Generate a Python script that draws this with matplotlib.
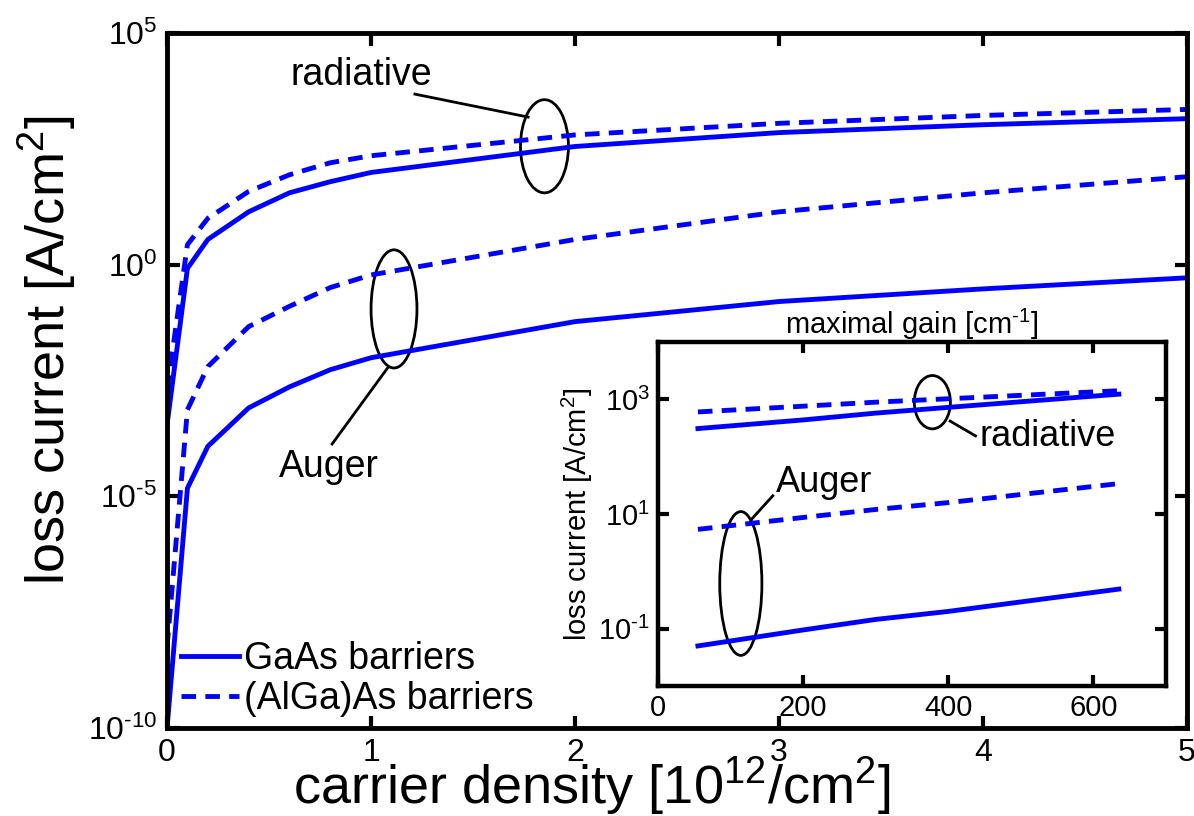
import numpy as np
import matplotlib
matplotlib.use("Agg")
import matplotlib.pyplot as plt
from matplotlib.patches import Ellipse
from matplotlib.ticker import FixedLocator, NullLocator

plt.rcParams['font.family'] = ['Liberation Sans', 'DejaVu Sans']
plt.rcParams['mathtext.fontset'] = 'custom'
plt.rcParams['mathtext.rm'] = 'Liberation Sans'
plt.rcParams['mathtext.it'] = 'Liberation Sans:italic'

# main plot: carrier density [1e12/cm^2] vs loss current [A/cm^2]
density = [0, 0.1, 0.2, 0.4, 0.6, 0.8, 1.0, 2.0, 3.0, 4.0, 5.0]
rad_gaas = [3.5e-4, 0.83, 3.5, 13.8, 35.5, 61.7, 97.7, 355, 708, 1047, 1413]
rad_algaas = [2.0e-3, 2.7, 10.0, 38.0, 87.0, 158, 224, 631, 1122, 1660, 2239]
aug_gaas = [1e-10, 1.5e-5, 1.2e-4, 8.1e-4, 2.3e-3, 5.4e-3, 9.8e-3, 5.9e-2, 0.16, 0.30, 0.52]
aug_algaas = [5.6e-9, 7.4e-4, 6.3e-3, 4.6e-2, 0.126, 0.32, 0.60, 3.5, 13.8, 35.5, 79.0]

# inset: maximal gain [1/cm] vs loss current
gain = [55, 200, 300, 400, 635]
rad_gaas_in = [309, 437, 575, 724, 1230]
rad_algaas_in = [603, 759, 891, 1023, 1413]
aug_gaas_in = [0.050, 0.095, 0.145, 0.20, 0.49]
aug_algaas_in = [5.4, 8.7, 12.0, 15.8, 33.9]

blue = '#0000ff'
dash = (3.0, 1.9)
hy = '\u2010'  # plain hyphen like the original exponent labels


def pow_label(e):
    s = str(e).replace('-', hy)
    return r'$\mathregular{10^{%s}}$' % s


fig = plt.figure(figsize=(11.94, 8.16), dpi=100)
ax = fig.add_axes([0.1399, 0.1078, 0.8543, 0.8518])

ax.plot(density, rad_gaas, color=blue, lw=3.5, label='GaAs barriers')
ax.plot(density, rad_algaas, color=blue, lw=3.5, dashes=dash, label='(AlGa)As barriers')
ax.plot(density, aug_gaas, color=blue, lw=3.5)
ax.plot(density, aug_algaas, color=blue, lw=3.5, dashes=dash)

ax.set_yscale('log')
ax.set_xlim(0, 5)
ax.set_ylim(1e-10, 1e5)
ax.xaxis.set_major_locator(FixedLocator([0, 1, 2, 3, 4, 5]))
ax.yaxis.set_major_locator(FixedLocator([1e-10, 1e-5, 1e0, 1e5]))
ax.yaxis.set_minor_locator(NullLocator())
ax.set_yticklabels([pow_label(e) for e in (-10, -5, 0, 5)])
ax.tick_params(direction='in', length=9, width=3, top=True, right=True,
               labelsize=23, pad=7)
for s in ax.spines.values():
    s.set_linewidth(3.5)
ax.set_xlabel(r'carrier density [10$^{12}$/cm$^{2}$]', fontsize=39)
ax.xaxis.set_label_coords(0.416, -0.1094)
ax.xaxis.label.set_va('baseline')
ax.set_ylabel(r'loss current [A/cm$^{2}$]', fontsize=39)
ax.yaxis.set_label_coords(-0.1176, 0.544)
ax.yaxis.label.set_va('center')

leg = ax.legend(loc='lower left', bbox_to_anchor=(0.006, 0.005), frameon=False,
                fontsize=27, handlelength=1.55, handletextpad=0.15,
                labelspacing=0.1, borderaxespad=0.0, borderpad=0.2)

# annotations in main axes
ek = dict(fill=False, lw=2.0, color='black', transform=ax.transAxes)
ax.add_patch(Ellipse((0.370, 0.837), 0.047, 0.134, **ek))
ax.plot([0.243, 0.354], [0.912, 0.879], color='black', lw=2.0, transform=ax.transAxes)
ax.text(0.190, 0.940, 'radiative', fontsize=27, ha='center', va='center',
        transform=ax.transAxes)
ax.add_patch(Ellipse((0.2225, 0.603), 0.045, 0.170, **ek))
ax.plot([0.2167, 0.1618], [0.519, 0.4086], color='black', lw=2.0, transform=ax.transAxes)
ax.text(0.159, 0.3755, 'Auger', fontsize=27, ha='center', va='center',
        transform=ax.transAxes)

# inset
ins = fig.add_axes([0.5511, 0.1593, 0.4255, 0.4216])
ins.plot(gain, rad_gaas_in, color=blue, lw=3.5)
ins.plot(gain, rad_algaas_in, color=blue, lw=3.5, dashes=dash)
ins.plot(gain, aug_gaas_in, color=blue, lw=3.5)
ins.plot(gain, aug_algaas_in, color=blue, lw=3.5, dashes=dash)
ins.set_yscale('log')
ins.set_xlim(0, 700)
ins.set_ylim(1e-2, 1e4)
ins.xaxis.set_major_locator(FixedLocator([0, 200, 400, 600]))
ins.yaxis.set_major_locator(FixedLocator([1e-1, 1e1, 1e3]))
ins.yaxis.set_minor_locator(NullLocator())
ins.set_yticklabels([pow_label(e) for e in (-1, 1, 3)])
ins.tick_params(direction='in', length=8, width=3, top=True, right=True,
                labelsize=21, pad=6)
for s in ins.spines.values():
    s.set_linewidth(3.2)
ins.set_title('maximal gain [cm$^{%s1}$]' % hy, fontsize=21, pad=6)
ins.set_ylabel(r'loss current [A/cm$^{2}$]', fontsize=21, labelpad=2)

ik = dict(fill=False, lw=2.0, color='black', transform=ins.transAxes)
ins.add_patch(Ellipse((0.54, 0.825), 0.071, 0.155, **ik))
ins.plot([0.575, 0.625], [0.77, 0.727], color='black', lw=2.0, transform=ins.transAxes)
ins.text(0.632, 0.725, 'radiative', fontsize=26, ha='left', va='center',
         transform=ins.transAxes)
ins.add_patch(Ellipse((0.163, 0.298), 0.083, 0.418, **ik))
ins.plot([0.183, 0.226], [0.483, 0.553], color='black', lw=2.0, transform=ins.transAxes)
ins.text(0.232, 0.593, 'Auger', fontsize=26, ha='left', va='center',
         transform=ins.transAxes)

fig.savefig('out.png', dpi=100)
